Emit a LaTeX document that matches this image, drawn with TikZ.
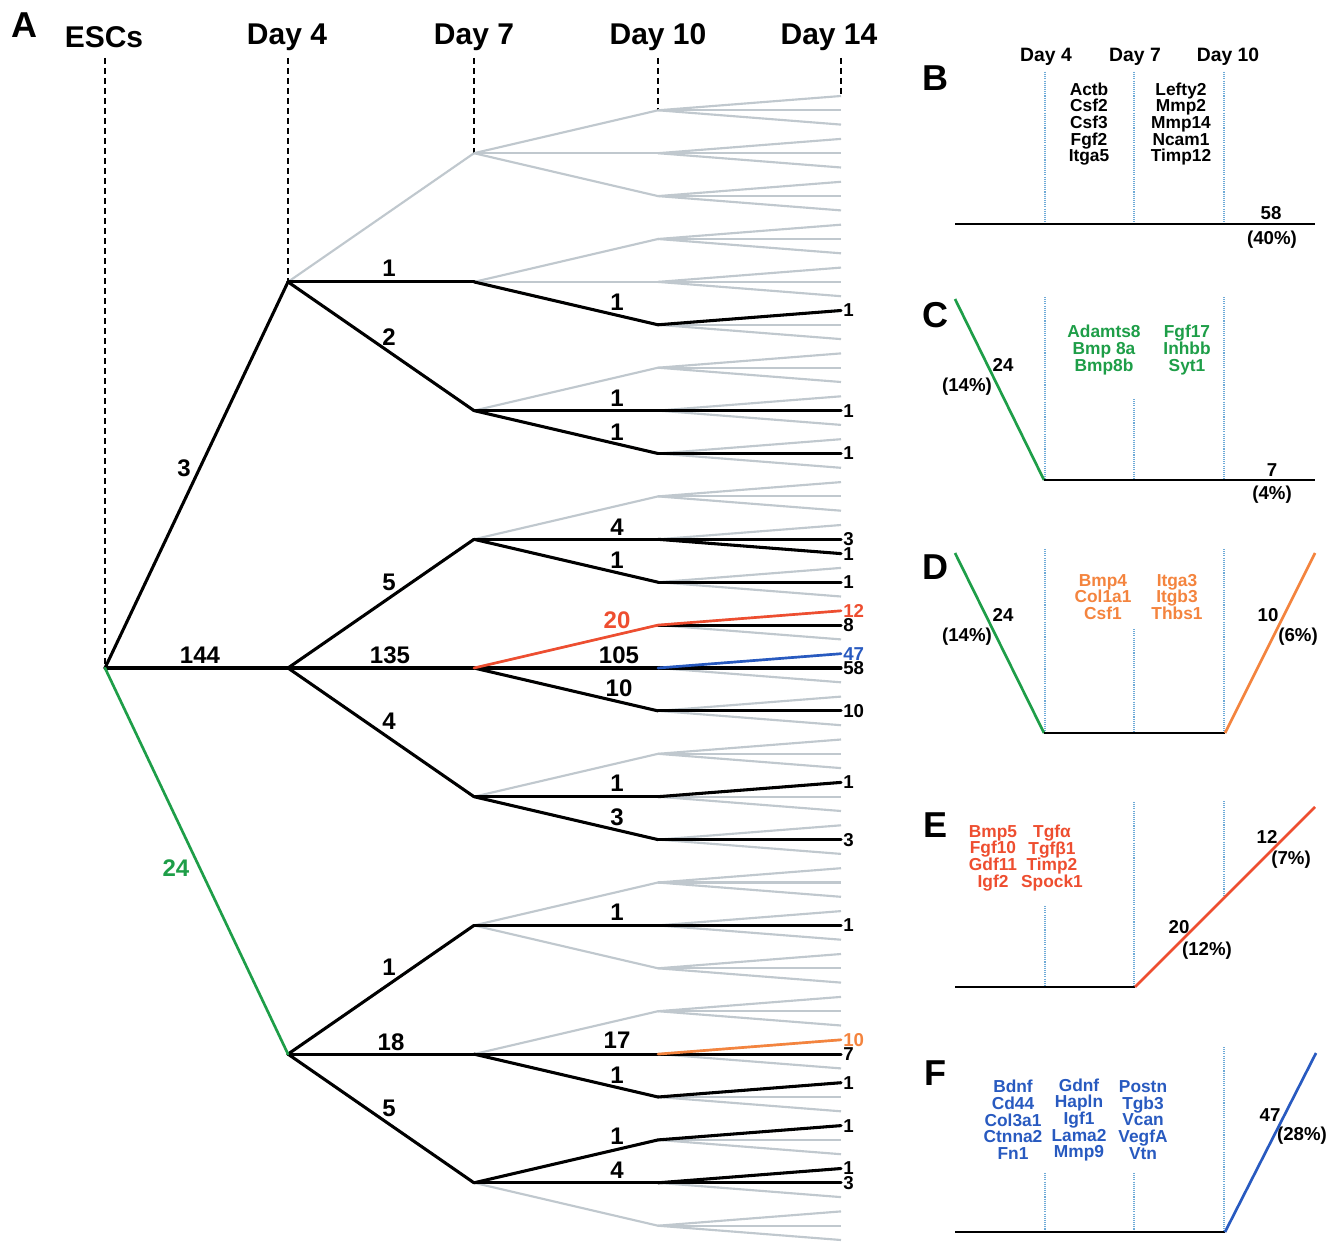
\documentclass[tikz,border=0pt]{standalone}
\usepackage{fontspec}
\setmainfont{Liberation Sans}
\definecolor{tgray}{RGB}{192,200,206}
\definecolor{tgreen}{RGB}{30,158,72}
\definecolor{tred}{RGB}{238,78,48}
\definecolor{torange}{RGB}{244,132,62}
\definecolor{tblue}{RGB}{40,90,192}
\definecolor{tdot}{RGB}{110,170,215}
\begin{document}
\begin{tikzpicture}[x=0.75pt,y=-0.75pt,
  hdr/.style={font=\fontsize{22.5}{24}\selectfont\bfseries, inner sep=0pt},
  plet/.style={font=\fontsize{27}{28}\selectfont\bfseries, inner sep=0pt},
  brlab/.style={font=\fontsize{18}{20}\selectfont\bfseries, inner sep=0pt},
  leaflab/.style={font=\fontsize{14}{15}\selectfont\bfseries, inner sep=0pt, anchor=west},
  daylab/.style={font=\fontsize{14.5}{16}\selectfont\bfseries, inner sep=0pt},
  gene/.style={font=\fontsize{13}{12.5}\selectfont\bfseries, inner sep=0pt, align=center},
  pnum/.style={font=\fontsize{14}{15}\selectfont\bfseries, inner sep=0pt},
  gline/.style={draw=tgray, line width=1.6pt},
  hl/.style={draw=black, line width=2.3pt, line cap=round},
  hlc/.style={line width=2pt, line cap=round},
  dline/.style={draw=black, line width=1.5pt, dash pattern=on 4.5pt off 3pt},
  dotl/.style={draw=tdot, line width=0.8pt, dash pattern=on 0.8pt off 0.8pt},
  pline/.style={draw=black, line width=2.2pt},
  pcol/.style={line width=2pt}
]
\useasboundingbox (0,0) rectangle (1337,1241);
\fill[white] (0,0) rectangle (1337,1241);

% ---------- tree coordinates ----------
\coordinate (r) at (105,668);
\foreach \n in {0,1,2}{\coordinate (a\n) at (288,{668+(27*\n-27)*14.3});}
\foreach \m in {0,...,8}{\coordinate (b\m) at (474,{668+(9*\m-36)*14.3});}
\foreach \k in {0,...,26}{\coordinate (c\k) at (658,{668+(3*\k-39)*14.3});}
\foreach \j in {0,...,80}{\coordinate (d\j) at (841,{668+(\j-40)*14.3});}

% ---------- headers ----------
\node[plet] (labA) at (24,25) {A};
\node[hdr] (hE) at (104,37) {ESCs};
\node[hdr] (h4) at (287,37) {Day 4};
\node[hdr] (h7) at (474,37) {Day 7};
\node[hdr] (h10) at (658,37) {Day 10};
\node[hdr] (h14) at (829,37) {Day 14};
\coordinate (tE) at (105,58);
\coordinate (t4) at (288,58);
\coordinate (t7) at (474,58);
\coordinate (t10) at (658,58);
\coordinate (t14) at (841,58);
\draw[dline] (tE) -- (r);
\draw[dline] (t4) -- (a0);
\draw[dline] (t7) -- (b0);
\draw[dline] (t10) -- (c0);
\draw[dline] (t14) -- (d0);

% ---------- gray tree ----------
\foreach \n in {0,1,2}{\foreach \i in {0,1,2}{\pgfmathtruncatemacro\m{3*\n+\i}\draw[gline] (a\n) -- (b\m);}}
\foreach \m in {0,...,8}{\foreach \i in {0,1,2}{\pgfmathtruncatemacro\k{3*\m+\i}\draw[gline] (b\m) -- (c\k);}}
\foreach \k in {0,...,26}{\foreach \i in {0,1,2}{\pgfmathtruncatemacro\j{3*\k+\i}\draw[gline] (c\k) -- (d\j);}}

% ---------- highlighted paths ----------
\foreach \p/\q in {r/a0, r/a1,
  a0/b1, a0/b2, b1/c5, c5/d15, b2/c7, b2/c8, c7/d22, c8/d25,
  a1/b3, a1/b4, a1/b5, b3/c10, b3/c11, c10/d31, c10/d32, c11/d34,
  b4/c13, b4/c14, c12/d37, c13/d40, c14/d43,
  b5/c16, b5/c17, c16/d48, c17/d52,
  a2/b6, a2/b7, a2/b8, b6/c19, c19/d58, b7/c22, b7/c23, c22/d67, c23/d69,
  b8/c24, b8/c25, c24/d72, c25/d75, c25/d76}
  {\draw[hl] (\p) -- (\q);}
\draw[hlc, draw=tgreen] (r) -- (a2);
\draw[hlc, draw=tred] (b4) -- (c12);
\draw[hlc, draw=tred] (c12) -- (d36);
\draw[hlc, draw=tblue] (c13) -- (d39);
\draw[hlc, draw=torange] (c22) -- (d66);

% ---------- branch labels ----------
\foreach \x/\y/\t [count=\c] in {184/468/3, 200/655/144,
  389/268/1, 389/337/2, 617/302/1, 617/398/1, 617/432/1,
  389/582/5, 390/655/135, 389/721/4, 617/527/4, 617/560/1,
  619/655/105, 619/688/10, 617/783/1, 617/817/3,
  389/967/1, 391/1042/18, 389/1108/5, 617/912/1,
  617/1040/17, 617/1075/1, 617/1136/1, 617/1170/4}
  {\node[brlab] (bl\c) at (\x,\y) {\t};}
\node[brlab, text=tgreen] (bl24) at (176,868) {24};
\node[brlab, text=tred] (bl20) at (617,620) {20};

% ---------- leaf labels ----------
\foreach \j/\t in {15/1, 22/1, 25/1, 31/3, 32/1, 34/1, 37/8, 40/58, 43/10,
  48/1, 52/3, 58/1, 67/7, 69/1, 72/1, 75/1, 76/3}
  {\node[leaflab] (ll\j) at ([xshift=1.5pt]d\j) {\t};}
\node[leaflab, text=tred] (ll36) at ([xshift=1.5pt]d36) {12};
\node[leaflab, text=tblue] (ll39) at ([xshift=1.5pt]d39) {47};
\node[leaflab, text=torange] (ll66) at ([xshift=1.5pt]d66) {10};

% ---------- panel B ----------
\node[plet] (labB) at (935,78) {B};
\node[daylab] (bd4) at (1046,57) {Day 4};
\node[daylab] (bd7) at (1135,57) {Day 7};
\node[daylab] (bd10) at (1228,57) {Day 10};
\draw[dotl] (1045,72) -- (1045,224);
\draw[dotl] (1134,72) -- (1134,224);
\draw[dotl] (1224,72) -- (1224,224);
\draw[pline] (955,224) -- (1315,224);
\node[gene] (gB1) at (1089,124) {Actb\\Csf2\\Csf3\\Fgf2\\Itga5};
\node[gene] (gB2) at (1181,124) {Lefty2\\Mmp2\\Mmp14\\Ncam1\\Timp12};
\node[pnum] (nB1) at (1271,213) {58};
\node[pnum] (nB2) at (1272,240) {(40\%)};

% ---------- panel C ----------
\node[plet] (labC) at (935,315) {C};
\draw[dotl] (1045,297) -- (1045,480);
\draw[dotl] (1134,399) -- (1134,480);
\draw[dotl] (1224,297) -- (1224,480);
\draw[pcol, draw=tgreen] (955,299) -- (1044,480);
\draw[pline] (1044,480) -- (1315,480);
\node[gene, text=tgreen] (gC1) at (1104,350) {Adamts8\\Bmp 8a\\Bmp8b};
\node[gene, text=tgreen] (gC2) at (1187,350) {Fgf17\\Inhbb\\Syt1};
\node[pnum] (nC1) at (1003,365) {24};
\node[pnum] (nC2) at (967,387) {(14\%)};
\node[pnum] (nC3) at (1272,470) {7};
\node[pnum] (nC4) at (1272,495) {(4\%)};

% ---------- panel D ----------
\node[plet] (labD) at (935,567) {D};
\draw[dotl] (1045,549) -- (1045,733);
\draw[dotl] (1134,629) -- (1134,733);
\draw[dotl] (1224,549) -- (1224,733);
\draw[pcol, draw=tgreen] (955,553) -- (1044,733);
\draw[pline] (1044,733) -- (1225,733);
\draw[pcol, draw=torange] (1225,733) -- (1315,553);
\node[gene, text=torange] (gD1) at (1103,597) {Bmp4\\Col1a1\\Csf1};
\node[gene, text=torange] (gD2) at (1177,597) {Itga3\\Itgb3\\Thbs1};
\node[pnum] (nD1) at (1003,615) {24};
\node[pnum] (nD2) at (967,637) {(14\%)};
\node[pnum] (nD3) at (1268,615) {10};
\node[pnum] (nD4) at (1298,637) {(6\%)};

% ---------- panel E ----------
\node[plet] (labE) at (935,825) {E};
\draw[dotl] (1045,906) -- (1045,987);
\draw[dotl] (1134,802) -- (1134,987);
\draw[dotl] (1224,801) -- (1224,895);
\draw[pline] (955,987) -- (1135,987);
\draw[pcol, draw=tred] (1135,987) -- (1315,807);
\node[gene, text=tred] (gE1) at (993,858) {Bmp5\\Fgf10\\Gdf11\\Igf2};
\node[gene, text=tred] (gE2) at (1052,858) {Tgfα\\Tgfβ1\\Timp2\\Spock1};
\node[pnum] (nE1) at (1179,927) {20};
\node[pnum] (nE2) at (1207,951) {(12\%)};
\node[pnum] (nE3) at (1267,837) {12};
\node[pnum] (nE4) at (1291,860) {(7\%)};

% ---------- panel F ----------
\node[plet] (labF) at (935,1073) {F};
\draw[dotl] (1045,1173) -- (1045,1232);
\draw[dotl] (1134,1173) -- (1134,1232);
\draw[dotl] (1224,1047) -- (1224,1232);
\draw[pline] (955,1232) -- (1225,1232);
\draw[pcol, draw=tblue] (1225,1232) -- (1316,1053);
\node[gene, text=tblue] (gF1) at (1013,1120) {Bdnf\\Cd44\\Col3a1\\Ctnna2\\Fn1};
\node[gene, text=tblue] (gF2) at (1079,1120) {Gdnf\\Hapln\\Igf1\\Lama2\\Mmp9};
\node[gene, text=tblue] (gF3) at (1143,1120) {Postn\\Tgb3\\Vcan\\VegfA\\Vtn};
\node[pnum] (nF1) at (1270,1115) {47};
\node[pnum] (nF2) at (1302,1136) {(28\%)};
\end{tikzpicture}
\end{document}
